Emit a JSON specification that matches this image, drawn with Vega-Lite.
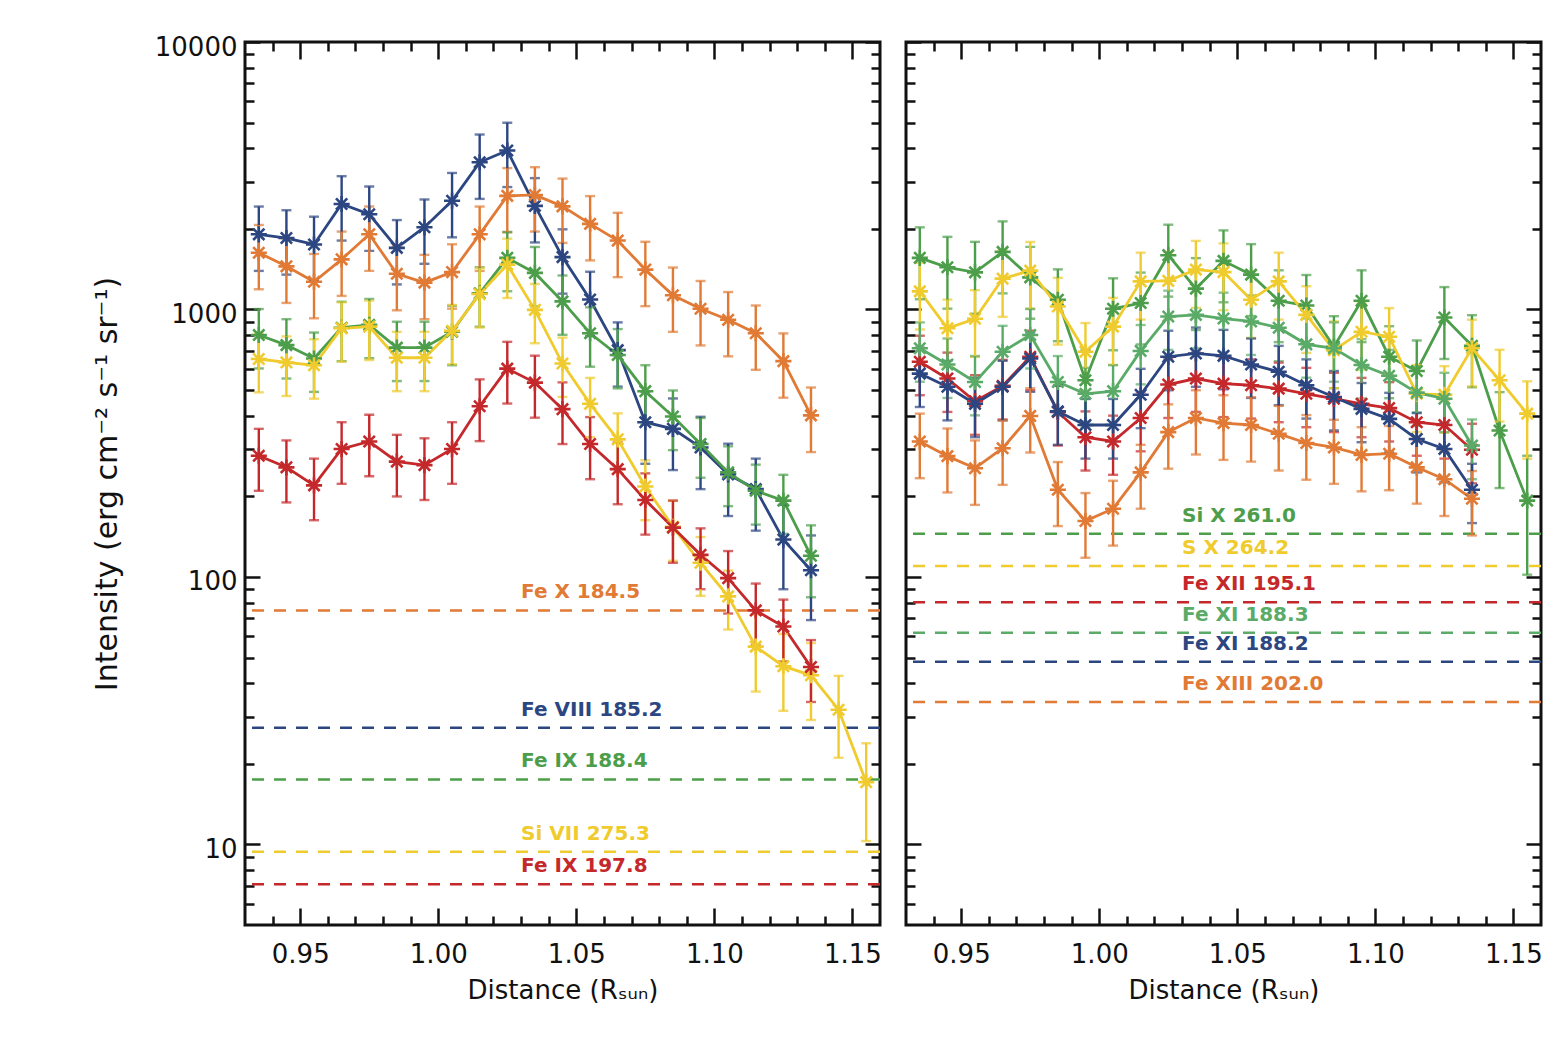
{
  "$schema": "https://vega.github.io/schema/vega-lite/v6.json",
  "background": "white",
  "padding": {"left": 90, "top": 32, "right": 0, "bottom": 0},
  "spacing": 20,
  "datasets": {
    "refL": [
      {"ion": "Fe X 184.5", "level": 75},
      {"ion": "Fe VIII 185.2", "level": 27.3},
      {"ion": "Fe IX 188.4", "level": 17.5},
      {"ion": "Si VII 275.3", "level": 9.4},
      {"ion": "Fe IX 197.8", "level": 7.1}
    ],
    "refR": [
      {"ion": "Si X 261.0", "level": 145},
      {"ion": "S X 264.2", "level": 110},
      {"ion": "Fe XII 195.1", "level": 80.4},
      {"ion": "Fe XI 188.3", "level": 61.9},
      {"ion": "Fe XI 188.2", "level": 48.2},
      {"ion": "Fe XIII 202.0", "level": 34.1}
    ],
    "obsL": [
      {"ion": "Fe VIII 185.2", "d": 0.935, "i": 1910, "err": 516},
      {"ion": "Fe VIII 185.2", "d": 0.945, "i": 1850, "err": 500},
      {"ion": "Fe VIII 185.2", "d": 0.955, "i": 1750, "err": 473},
      {"ion": "Fe VIII 185.2", "d": 0.965, "i": 2480, "err": 670},
      {"ion": "Fe VIII 185.2", "d": 0.975, "i": 2270, "err": 613},
      {"ion": "Fe VIII 185.2", "d": 0.985, "i": 1700, "err": 459},
      {"ion": "Fe VIII 185.2", "d": 0.995, "i": 2030, "err": 548},
      {"ion": "Fe VIII 185.2", "d": 1.005, "i": 2550, "err": 689},
      {"ion": "Fe VIII 185.2", "d": 1.015, "i": 3550, "err": 959},
      {"ion": "Fe VIII 185.2", "d": 1.025, "i": 3930, "err": 1061},
      {"ion": "Fe VIII 185.2", "d": 1.035, "i": 2440, "err": 659},
      {"ion": "Fe VIII 185.2", "d": 1.045, "i": 1570, "err": 424},
      {"ion": "Fe VIII 185.2", "d": 1.055, "i": 1090, "err": 294},
      {"ion": "Fe VIII 185.2", "d": 1.065, "i": 705, "err": 190},
      {"ion": "Fe VIII 185.2", "d": 1.075, "i": 379, "err": 114},
      {"ion": "Fe VIII 185.2", "d": 1.085, "i": 358, "err": 107},
      {"ion": "Fe VIII 185.2", "d": 1.095, "i": 305, "err": 92},
      {"ion": "Fe VIII 185.2", "d": 1.105, "i": 242, "err": 73},
      {"ion": "Fe VIII 185.2", "d": 1.115, "i": 213, "err": 64},
      {"ion": "Fe VIII 185.2", "d": 1.125, "i": 138, "err": 48},
      {"ion": "Fe VIII 185.2", "d": 1.135, "i": 106, "err": 37},
      {"ion": "Fe X 184.5", "d": 0.935, "i": 1630, "err": 440},
      {"ion": "Fe X 184.5", "d": 0.945, "i": 1450, "err": 392},
      {"ion": "Fe X 184.5", "d": 0.955, "i": 1270, "err": 343},
      {"ion": "Fe X 184.5", "d": 0.965, "i": 1540, "err": 416},
      {"ion": "Fe X 184.5", "d": 0.975, "i": 1910, "err": 516},
      {"ion": "Fe X 184.5", "d": 0.985, "i": 1360, "err": 367},
      {"ion": "Fe X 184.5", "d": 0.995, "i": 1260, "err": 340},
      {"ion": "Fe X 184.5", "d": 1.005, "i": 1380, "err": 373},
      {"ion": "Fe X 184.5", "d": 1.015, "i": 1910, "err": 516},
      {"ion": "Fe X 184.5", "d": 1.025, "i": 2660, "err": 718},
      {"ion": "Fe X 184.5", "d": 1.035, "i": 2680, "err": 724},
      {"ion": "Fe X 184.5", "d": 1.045, "i": 2430, "err": 656},
      {"ion": "Fe X 184.5", "d": 1.055, "i": 2090, "err": 564},
      {"ion": "Fe X 184.5", "d": 1.065, "i": 1810, "err": 489},
      {"ion": "Fe X 184.5", "d": 1.075, "i": 1410, "err": 381},
      {"ion": "Fe X 184.5", "d": 1.085, "i": 1130, "err": 305},
      {"ion": "Fe X 184.5", "d": 1.095, "i": 1006, "err": 272},
      {"ion": "Fe X 184.5", "d": 1.105, "i": 915, "err": 247},
      {"ion": "Fe X 184.5", "d": 1.115, "i": 815, "err": 220},
      {"ion": "Fe X 184.5", "d": 1.125, "i": 641, "err": 173},
      {"ion": "Fe X 184.5", "d": 1.135, "i": 402, "err": 109},
      {"ion": "Fe IX 188.4", "d": 0.935, "i": 803, "err": 201},
      {"ion": "Fe IX 188.4", "d": 0.945, "i": 736, "err": 184},
      {"ion": "Fe IX 188.4", "d": 0.955, "i": 656, "err": 164},
      {"ion": "Fe IX 188.4", "d": 0.965, "i": 855, "err": 214},
      {"ion": "Fe IX 188.4", "d": 0.975, "i": 876, "err": 219},
      {"ion": "Fe IX 188.4", "d": 0.985, "i": 720, "err": 180},
      {"ion": "Fe IX 188.4", "d": 0.995, "i": 720, "err": 180},
      {"ion": "Fe IX 188.4", "d": 1.005, "i": 826, "err": 207},
      {"ion": "Fe IX 188.4", "d": 1.015, "i": 1150, "err": 288},
      {"ion": "Fe IX 188.4", "d": 1.025, "i": 1560, "err": 390},
      {"ion": "Fe IX 188.4", "d": 1.035, "i": 1370, "err": 343},
      {"ion": "Fe IX 188.4", "d": 1.045, "i": 1072, "err": 268},
      {"ion": "Fe IX 188.4", "d": 1.055, "i": 815, "err": 204},
      {"ion": "Fe IX 188.4", "d": 1.065, "i": 676, "err": 169},
      {"ion": "Fe IX 188.4", "d": 1.075, "i": 495, "err": 124},
      {"ion": "Fe IX 188.4", "d": 1.085, "i": 398, "err": 100},
      {"ion": "Fe IX 188.4", "d": 1.095, "i": 314, "err": 79},
      {"ion": "Fe IX 188.4", "d": 1.105, "i": 246, "err": 62},
      {"ion": "Fe IX 188.4", "d": 1.115, "i": 210, "err": 53},
      {"ion": "Fe IX 188.4", "d": 1.125, "i": 193, "err": 48},
      {"ion": "Fe IX 188.4", "d": 1.135, "i": 120, "err": 36},
      {"ion": "Si VII 275.3", "d": 0.935, "i": 653, "err": 163},
      {"ion": "Si VII 275.3", "d": 0.945, "i": 634, "err": 159},
      {"ion": "Si VII 275.3", "d": 0.955, "i": 619, "err": 155},
      {"ion": "Si VII 275.3", "d": 0.965, "i": 851, "err": 213},
      {"ion": "Si VII 275.3", "d": 0.975, "i": 863, "err": 216},
      {"ion": "Si VII 275.3", "d": 0.985, "i": 660, "err": 165},
      {"ion": "Si VII 275.3", "d": 0.995, "i": 660, "err": 165},
      {"ion": "Si VII 275.3", "d": 1.005, "i": 832, "err": 208},
      {"ion": "Si VII 275.3", "d": 1.015, "i": 1142, "err": 286},
      {"ion": "Si VII 275.3", "d": 1.025, "i": 1472, "err": 368},
      {"ion": "Si VII 275.3", "d": 1.035, "i": 997, "err": 249},
      {"ion": "Si VII 275.3", "d": 1.045, "i": 628, "err": 157},
      {"ion": "Si VII 275.3", "d": 1.055, "i": 444, "err": 111},
      {"ion": "Si VII 275.3", "d": 1.065, "i": 327, "err": 82},
      {"ion": "Si VII 275.3", "d": 1.075, "i": 218, "err": 55},
      {"ion": "Si VII 275.3", "d": 1.085, "i": 154, "err": 39},
      {"ion": "Si VII 275.3", "d": 1.095, "i": 113, "err": 28},
      {"ion": "Si VII 275.3", "d": 1.105, "i": 84.6, "err": 21},
      {"ion": "Si VII 275.3", "d": 1.115, "i": 54.9, "err": 17.6},
      {"ion": "Si VII 275.3", "d": 1.125, "i": 46.4, "err": 14.8},
      {"ion": "Si VII 275.3", "d": 1.135, "i": 42.9, "err": 13.7},
      {"ion": "Si VII 275.3", "d": 1.145, "i": 31.9, "err": 10.8},
      {"ion": "Si VII 275.3", "d": 1.155, "i": 17.1, "err": 6.8},
      {"ion": "Fe IX 197.8", "d": 0.935, "i": 284, "err": 74},
      {"ion": "Fe IX 197.8", "d": 0.945, "i": 257, "err": 67},
      {"ion": "Fe IX 197.8", "d": 0.955, "i": 220, "err": 57},
      {"ion": "Fe IX 197.8", "d": 0.965, "i": 301, "err": 78},
      {"ion": "Fe IX 197.8", "d": 0.975, "i": 321, "err": 83},
      {"ion": "Fe IX 197.8", "d": 0.985, "i": 270, "err": 70},
      {"ion": "Fe IX 197.8", "d": 0.995, "i": 262, "err": 68},
      {"ion": "Fe IX 197.8", "d": 1.005, "i": 301, "err": 78},
      {"ion": "Fe IX 197.8", "d": 1.015, "i": 435, "err": 113},
      {"ion": "Fe IX 197.8", "d": 1.025, "i": 601, "err": 156},
      {"ion": "Fe IX 197.8", "d": 1.035, "i": 533, "err": 139},
      {"ion": "Fe IX 197.8", "d": 1.045, "i": 424, "err": 110},
      {"ion": "Fe IX 197.8", "d": 1.055, "i": 314, "err": 82},
      {"ion": "Fe IX 197.8", "d": 1.065, "i": 253, "err": 66},
      {"ion": "Fe IX 197.8", "d": 1.075, "i": 194, "err": 50},
      {"ion": "Fe IX 197.8", "d": 1.085, "i": 153, "err": 40},
      {"ion": "Fe IX 197.8", "d": 1.095, "i": 121, "err": 31},
      {"ion": "Fe IX 197.8", "d": 1.105, "i": 99, "err": 26},
      {"ion": "Fe IX 197.8", "d": 1.115, "i": 75, "err": 19.5},
      {"ion": "Fe IX 197.8", "d": 1.125, "i": 65.3, "err": 17},
      {"ion": "Fe IX 197.8", "d": 1.135, "i": 46.1, "err": 12}
    ],
    "obsR": [
      {"ion": "Si X 261.0", "d": 0.935, "i": 1560, "err": 468},
      {"ion": "Si X 261.0", "d": 0.945, "i": 1438, "err": 431},
      {"ion": "Si X 261.0", "d": 0.955, "i": 1377, "err": 413},
      {"ion": "Si X 261.0", "d": 0.965, "i": 1642, "err": 493},
      {"ion": "Si X 261.0", "d": 0.975, "i": 1319, "err": 396},
      {"ion": "Si X 261.0", "d": 0.985, "i": 1087, "err": 326},
      {"ion": "Si X 261.0", "d": 0.995, "i": 544, "err": 163},
      {"ion": "Si X 261.0", "d": 1.005, "i": 1006, "err": 302},
      {"ion": "Si X 261.0", "d": 1.015, "i": 1057, "err": 317},
      {"ion": "Si X 261.0", "d": 1.025, "i": 1596, "err": 479},
      {"ion": "Si X 261.0", "d": 1.035, "i": 1197, "err": 359},
      {"ion": "Si X 261.0", "d": 1.045, "i": 1520, "err": 456},
      {"ion": "Si X 261.0", "d": 1.055, "i": 1350, "err": 405},
      {"ion": "Si X 261.0", "d": 1.065, "i": 1078, "err": 323},
      {"ion": "Si X 261.0", "d": 1.075, "i": 1035, "err": 311},
      {"ion": "Si X 261.0", "d": 1.085, "i": 726, "err": 218},
      {"ion": "Si X 261.0", "d": 1.095, "i": 1078, "err": 323},
      {"ion": "Si X 261.0", "d": 1.105, "i": 666, "err": 200},
      {"ion": "Si X 261.0", "d": 1.115, "i": 589, "err": 177},
      {"ion": "Si X 261.0", "d": 1.125, "i": 933, "err": 280},
      {"ion": "Si X 261.0", "d": 1.135, "i": 732, "err": 220},
      {"ion": "Si X 261.0", "d": 1.145, "i": 353, "err": 138},
      {"ion": "Si X 261.0", "d": 1.155, "i": 193, "err": 91},
      {"ion": "S X 264.2", "d": 0.935, "i": 1169, "err": 327},
      {"ion": "S X 264.2", "d": 0.945, "i": 851, "err": 238},
      {"ion": "S X 264.2", "d": 0.955, "i": 923, "err": 258},
      {"ion": "S X 264.2", "d": 0.965, "i": 1304, "err": 365},
      {"ion": "S X 264.2", "d": 0.975, "i": 1397, "err": 391},
      {"ion": "S X 264.2", "d": 0.985, "i": 1026, "err": 287},
      {"ion": "S X 264.2", "d": 0.995, "i": 695, "err": 195},
      {"ion": "S X 264.2", "d": 1.005, "i": 863, "err": 242},
      {"ion": "S X 264.2", "d": 1.015, "i": 1274, "err": 357},
      {"ion": "S X 264.2", "d": 1.025, "i": 1280, "err": 358},
      {"ion": "S X 264.2", "d": 1.035, "i": 1410, "err": 395},
      {"ion": "S X 264.2", "d": 1.045, "i": 1380, "err": 386},
      {"ion": "S X 264.2", "d": 1.055, "i": 1087, "err": 304},
      {"ion": "S X 264.2", "d": 1.065, "i": 1274, "err": 357},
      {"ion": "S X 264.2", "d": 1.075, "i": 955, "err": 267},
      {"ion": "S X 264.2", "d": 1.085, "i": 705, "err": 197},
      {"ion": "S X 264.2", "d": 1.095, "i": 826, "err": 231},
      {"ion": "S X 264.2", "d": 1.105, "i": 791, "err": 221},
      {"ion": "S X 264.2", "d": 1.115, "i": 484, "err": 136},
      {"ion": "S X 264.2", "d": 1.125, "i": 480, "err": 134},
      {"ion": "S X 264.2", "d": 1.135, "i": 716, "err": 200},
      {"ion": "S X 264.2", "d": 1.145, "i": 544, "err": 163},
      {"ion": "S X 264.2", "d": 1.155, "i": 408, "err": 131},
      {"ion": "Fe XII 195.1", "d": 0.935, "i": 638, "err": 160},
      {"ion": "Fe XII 195.1", "d": 0.945, "i": 552, "err": 138},
      {"ion": "Fe XII 195.1", "d": 0.955, "i": 454, "err": 114},
      {"ion": "Fe XII 195.1", "d": 0.965, "i": 518, "err": 130},
      {"ion": "Fe XII 195.1", "d": 0.975, "i": 666, "err": 167},
      {"ion": "Fe XII 195.1", "d": 0.985, "i": 414, "err": 104},
      {"ion": "Fe XII 195.1", "d": 0.995, "i": 333, "err": 83},
      {"ion": "Fe XII 195.1", "d": 1.005, "i": 321, "err": 80},
      {"ion": "Fe XII 195.1", "d": 1.015, "i": 393, "err": 98},
      {"ion": "Fe XII 195.1", "d": 1.025, "i": 524, "err": 131},
      {"ion": "Fe XII 195.1", "d": 1.035, "i": 552, "err": 138},
      {"ion": "Fe XII 195.1", "d": 1.045, "i": 528, "err": 132},
      {"ion": "Fe XII 195.1", "d": 1.055, "i": 521, "err": 130},
      {"ion": "Fe XII 195.1", "d": 1.065, "i": 506, "err": 127},
      {"ion": "Fe XII 195.1", "d": 1.075, "i": 484, "err": 121},
      {"ion": "Fe XII 195.1", "d": 1.085, "i": 464, "err": 116},
      {"ion": "Fe XII 195.1", "d": 1.095, "i": 444, "err": 111},
      {"ion": "Fe XII 195.1", "d": 1.105, "i": 428, "err": 107},
      {"ion": "Fe XII 195.1", "d": 1.115, "i": 379, "err": 95},
      {"ion": "Fe XII 195.1", "d": 1.125, "i": 370, "err": 93},
      {"ion": "Fe XII 195.1", "d": 1.135, "i": 299, "err": 75},
      {"ion": "Fe XI 188.3", "d": 0.935, "i": 716, "err": 179},
      {"ion": "Fe XI 188.3", "d": 0.945, "i": 623, "err": 156},
      {"ion": "Fe XI 188.3", "d": 0.955, "i": 536, "err": 134},
      {"ion": "Fe XI 188.3", "d": 0.965, "i": 695, "err": 174},
      {"ion": "Fe XI 188.3", "d": 0.975, "i": 803, "err": 201},
      {"ion": "Fe XI 188.3", "d": 0.985, "i": 536, "err": 134},
      {"ion": "Fe XI 188.3", "d": 0.995, "i": 484, "err": 121},
      {"ion": "Fe XI 188.3", "d": 1.005, "i": 495, "err": 124},
      {"ion": "Fe XI 188.3", "d": 1.015, "i": 700, "err": 175},
      {"ion": "Fe XI 188.3", "d": 1.025, "i": 941, "err": 235},
      {"ion": "Fe XI 188.3", "d": 1.035, "i": 955, "err": 239},
      {"ion": "Fe XI 188.3", "d": 1.045, "i": 925, "err": 231},
      {"ion": "Fe XI 188.3", "d": 1.055, "i": 902, "err": 226},
      {"ion": "Fe XI 188.3", "d": 1.065, "i": 855, "err": 214},
      {"ion": "Fe XI 188.3", "d": 1.075, "i": 741, "err": 185},
      {"ion": "Fe XI 188.3", "d": 1.085, "i": 716, "err": 179},
      {"ion": "Fe XI 188.3", "d": 1.095, "i": 620, "err": 155},
      {"ion": "Fe XI 188.3", "d": 1.105, "i": 565, "err": 141},
      {"ion": "Fe XI 188.3", "d": 1.115, "i": 489, "err": 122},
      {"ion": "Fe XI 188.3", "d": 1.125, "i": 464, "err": 116},
      {"ion": "Fe XI 188.3", "d": 1.135, "i": 310, "err": 78},
      {"ion": "Fe XI 188.2", "d": 0.935, "i": 576, "err": 144},
      {"ion": "Fe XI 188.2", "d": 0.945, "i": 514, "err": 129},
      {"ion": "Fe XI 188.2", "d": 0.955, "i": 444, "err": 111},
      {"ion": "Fe XI 188.2", "d": 0.965, "i": 514, "err": 129},
      {"ion": "Fe XI 188.2", "d": 0.975, "i": 656, "err": 164},
      {"ion": "Fe XI 188.2", "d": 0.985, "i": 416, "err": 104},
      {"ion": "Fe XI 188.2", "d": 0.995, "i": 370, "err": 93},
      {"ion": "Fe XI 188.2", "d": 1.005, "i": 370, "err": 93},
      {"ion": "Fe XI 188.2", "d": 1.015, "i": 480, "err": 120},
      {"ion": "Fe XI 188.2", "d": 1.025, "i": 666, "err": 167},
      {"ion": "Fe XI 188.2", "d": 1.035, "i": 685, "err": 171},
      {"ion": "Fe XI 188.2", "d": 1.045, "i": 671, "err": 168},
      {"ion": "Fe XI 188.2", "d": 1.055, "i": 623, "err": 156},
      {"ion": "Fe XI 188.2", "d": 1.065, "i": 585, "err": 146},
      {"ion": "Fe XI 188.2", "d": 1.075, "i": 521, "err": 130},
      {"ion": "Fe XI 188.2", "d": 1.085, "i": 471, "err": 118},
      {"ion": "Fe XI 188.2", "d": 1.095, "i": 425, "err": 106},
      {"ion": "Fe XI 188.2", "d": 1.105, "i": 390, "err": 98},
      {"ion": "Fe XI 188.2", "d": 1.115, "i": 328, "err": 82},
      {"ion": "Fe XI 188.2", "d": 1.125, "i": 301, "err": 75},
      {"ion": "Fe XI 188.2", "d": 1.135, "i": 212, "err": 53},
      {"ion": "Fe XIII 202.0", "d": 0.935, "i": 321, "err": 87},
      {"ion": "Fe XIII 202.0", "d": 0.945, "i": 283, "err": 76},
      {"ion": "Fe XIII 202.0", "d": 0.955, "i": 255, "err": 69},
      {"ion": "Fe XIII 202.0", "d": 0.965, "i": 303, "err": 82},
      {"ion": "Fe XIII 202.0", "d": 0.975, "i": 400, "err": 108},
      {"ion": "Fe XIII 202.0", "d": 0.985, "i": 212, "err": 57},
      {"ion": "Fe XIII 202.0", "d": 0.995, "i": 162, "err": 44},
      {"ion": "Fe XIII 202.0", "d": 1.005, "i": 180, "err": 49},
      {"ion": "Fe XIII 202.0", "d": 1.015, "i": 246, "err": 66},
      {"ion": "Fe XIII 202.0", "d": 1.025, "i": 348, "err": 94},
      {"ion": "Fe XIII 202.0", "d": 1.035, "i": 393, "err": 106},
      {"ion": "Fe XIII 202.0", "d": 1.045, "i": 376, "err": 102},
      {"ion": "Fe XIII 202.0", "d": 1.055, "i": 370, "err": 100},
      {"ion": "Fe XIII 202.0", "d": 1.065, "i": 343, "err": 93},
      {"ion": "Fe XIII 202.0", "d": 1.075, "i": 317, "err": 86},
      {"ion": "Fe XIII 202.0", "d": 1.085, "i": 305, "err": 82},
      {"ion": "Fe XIII 202.0", "d": 1.095, "i": 286, "err": 77},
      {"ion": "Fe XIII 202.0", "d": 1.105, "i": 289, "err": 78},
      {"ion": "Fe XIII 202.0", "d": 1.115, "i": 257, "err": 69},
      {"ion": "Fe XIII 202.0", "d": 1.125, "i": 232, "err": 63},
      {"ion": "Fe XIII 202.0", "d": 1.135, "i": 196, "err": 53}
    ]
  },
  "hconcat": [
    {
      "width": 635,
      "height": 883,
      "layer": [
        {
          "data": {"name": "refL"},
          "mark": {"type": "rule", "strokeDash": [12, 10], "strokeWidth": 2.5},
          "encoding": {
            "y": {"field": "level", "type": "quantitative", "scale": {"type": "log", "domain": [5, 10000], "nice": false},
                  "axis": {"orient": "right", "title": null, "labels": false, "tickSize": -9,
                           "values": [6, 7, 8, 9, 20, 30, 40, 50, 60, 70, 80, 90, 200, 300, 400, 500, 600, 700, 800, 900, 2000, 3000, 4000, 5000, 6000, 7000, 8000, 9000]}},
            "color": {"field": "ion", "type": "nominal", "legend": null,
                      "scale": {"domain": ["Fe VIII 185.2", "Fe X 184.5", "Fe IX 188.4", "Si VII 275.3", "Fe IX 197.8", "Si X 261.0", "S X 264.2", "Fe XII 195.1", "Fe XI 188.3", "Fe XI 188.2", "Fe XIII 202.0"],
                                "range": ["#2c4682", "#e07a35", "#4c9e4a", "#f0cb2e", "#c4282b", "#4c9e4a", "#f0cb2e", "#c4282b", "#5aab68", "#2c4682", "#e07a35"]}}
          }
        },
        {
          "data": {"name": "obsL"},
          "mark": {"type": "line", "strokeWidth": 2.8},
          "encoding": {
            "x": {"field": "d", "type": "quantitative", "scale": {"domain": [0.93, 1.16], "nice": false, "zero": false},
                  "axis": {"orient": "bottom", "title": "Distance (Rₛᵤₙ)", "values": [0.95, 1.0, 1.05, 1.1, 1.15], "format": ".2f", "tickSize": -17, "labelPadding": 33, "titlePadding": 10}},
            "y": {"field": "i", "type": "quantitative", "scale": {"type": "log", "domain": [5, 10000], "nice": false},
                  "axis": {"orient": "left", "title": "Intensity (erg cm⁻² s⁻¹ sr⁻¹)", "values": [10, 100, 1000, 10000], "format": "d", "tickSize": -15, "labelPadding": 23, "labelOffset": 5, "titlePadding": 32, "titleFontSize": 30}},
            "color": {"field": "ion", "type": "nominal", "legend": null}
          }
        },
        {
          "data": {"name": "obsL"},
          "mark": {"type": "errorbar", "ticks": true, "size": 10, "thickness": 2.4},
          "encoding": {
            "x": {"field": "d", "type": "quantitative",
                  "axis": {"orient": "bottom", "title": null, "labels": false, "tickSize": -9,
                           "values": [0.94, 0.96, 0.97, 0.98, 0.99, 1.01, 1.02, 1.03, 1.04, 1.06, 1.07, 1.08, 1.09, 1.11, 1.12, 1.13, 1.14]}},
            "y": {"field": "i", "type": "quantitative",
                  "axis": {"orient": "left", "title": null, "labels": false, "tickSize": -9,
                           "values": [6, 7, 8, 9, 20, 30, 40, 50, 60, 70, 80, 90, 200, 300, 400, 500, 600, 700, 800, 900, 2000, 3000, 4000, 5000, 6000, 7000, 8000, 9000]}},
            "yError": {"field": "err"},
            "color": {"field": "ion", "type": "nominal", "legend": null}
          }
        },
        {
          "data": {"name": "obsL"},
          "mark": {"type": "point", "shape": "M-1,0L1,0M0,-1L0,1M-0.7,-0.7L0.7,0.7M-0.7,0.7L0.7,-0.7", "size": 260, "strokeWidth": 2.6, "filled": false, "opacity": 1},
          "encoding": {
            "x": {"field": "d", "type": "quantitative",
                  "axis": {"orient": "top", "title": null, "labels": false, "tickSize": -17, "values": [0.95, 1.0, 1.05, 1.1, 1.15]}},
            "y": {"field": "i", "type": "quantitative",
                  "axis": {"orient": "right", "title": null, "labels": false, "tickSize": -15, "values": [10, 100, 1000, 10000]}},
            "color": {"field": "ion", "type": "nominal", "legend": null}
          }
        },
        {
          "data": {"name": "refL"},
          "mark": {"type": "text", "align": "left", "baseline": "middle", "dy": -18, "fontSize": 20, "fontWeight": "bold"},
          "encoding": {
            "x": {"datum": 1.03, "type": "quantitative",
                  "axis": {"orient": "top", "title": null, "labels": false, "tickSize": -9,
                           "values": [0.94, 0.96, 0.97, 0.98, 0.99, 1.01, 1.02, 1.03, 1.04, 1.06, 1.07, 1.08, 1.09, 1.11, 1.12, 1.13, 1.14]}},
            "y": {"field": "level", "type": "quantitative", "axis": null},
            "text": {"field": "ion"},
            "color": {"field": "ion", "type": "nominal", "legend": null}
          }
        }
      ],
      "resolve": {"axis": {"x": "independent", "y": "independent"}}
    },
    {
      "width": 635,
      "height": 883,
      "layer": [
        {
          "data": {"name": "refR"},
          "mark": {"type": "rule", "strokeDash": [12, 10], "strokeWidth": 2.5},
          "encoding": {
            "y": {"field": "level", "type": "quantitative", "scale": {"type": "log", "domain": [5, 10000], "nice": false},
                  "axis": {"orient": "right", "title": null, "labels": false, "tickSize": -9,
                           "values": [6, 7, 8, 9, 20, 30, 40, 50, 60, 70, 80, 90, 200, 300, 400, 500, 600, 700, 800, 900, 2000, 3000, 4000, 5000, 6000, 7000, 8000, 9000]}},
            "color": {"field": "ion", "type": "nominal", "legend": null}
          }
        },
        {
          "data": {"name": "obsR"},
          "mark": {"type": "line", "strokeWidth": 2.8},
          "encoding": {
            "x": {"field": "d", "type": "quantitative", "scale": {"domain": [0.93, 1.16], "nice": false, "zero": false},
                  "axis": {"orient": "bottom", "title": "Distance (Rₛᵤₙ)", "values": [0.95, 1.0, 1.05, 1.1, 1.15], "format": ".2f", "tickSize": -17, "labelPadding": 33, "titlePadding": 10}},
            "y": {"field": "i", "type": "quantitative", "scale": {"type": "log", "domain": [5, 10000], "nice": false},
                  "axis": {"orient": "left", "title": null, "labels": false, "values": [10, 100, 1000, 10000], "tickSize": -15}},
            "color": {"field": "ion", "type": "nominal", "legend": null}
          }
        },
        {
          "data": {"name": "obsR"},
          "mark": {"type": "errorbar", "ticks": true, "size": 10, "thickness": 2.4},
          "encoding": {
            "x": {"field": "d", "type": "quantitative",
                  "axis": {"orient": "bottom", "title": null, "labels": false, "tickSize": -9,
                           "values": [0.94, 0.96, 0.97, 0.98, 0.99, 1.01, 1.02, 1.03, 1.04, 1.06, 1.07, 1.08, 1.09, 1.11, 1.12, 1.13, 1.14]}},
            "y": {"field": "i", "type": "quantitative",
                  "axis": {"orient": "left", "title": null, "labels": false, "tickSize": -9,
                           "values": [6, 7, 8, 9, 20, 30, 40, 50, 60, 70, 80, 90, 200, 300, 400, 500, 600, 700, 800, 900, 2000, 3000, 4000, 5000, 6000, 7000, 8000, 9000]}},
            "yError": {"field": "err"},
            "color": {"field": "ion", "type": "nominal", "legend": null}
          }
        },
        {
          "data": {"name": "obsR"},
          "mark": {"type": "point", "shape": "M-1,0L1,0M0,-1L0,1M-0.7,-0.7L0.7,0.7M-0.7,0.7L0.7,-0.7", "size": 260, "strokeWidth": 2.6, "filled": false, "opacity": 1},
          "encoding": {
            "x": {"field": "d", "type": "quantitative",
                  "axis": {"orient": "top", "title": null, "labels": false, "tickSize": -17, "values": [0.95, 1.0, 1.05, 1.1, 1.15]}},
            "y": {"field": "i", "type": "quantitative",
                  "axis": {"orient": "right", "title": null, "labels": false, "tickSize": -15, "values": [10, 100, 1000, 10000]}},
            "color": {"field": "ion", "type": "nominal", "legend": null}
          }
        },
        {
          "data": {"name": "refR"},
          "mark": {"type": "text", "align": "left", "baseline": "middle", "dy": -18, "fontSize": 20, "fontWeight": "bold"},
          "encoding": {
            "x": {"datum": 1.03, "type": "quantitative",
                  "axis": {"orient": "top", "title": null, "labels": false, "tickSize": -9,
                           "values": [0.94, 0.96, 0.97, 0.98, 0.99, 1.01, 1.02, 1.03, 1.04, 1.06, 1.07, 1.08, 1.09, 1.11, 1.12, 1.13, 1.14]}},
            "y": {"field": "level", "type": "quantitative", "axis": null},
            "text": {"field": "ion"},
            "color": {"field": "ion", "type": "nominal", "legend": null}
          }
        }
      ],
      "resolve": {"axis": {"x": "independent", "y": "independent"}}
    }
  ],
  "resolve": {"scale": {"color": "shared"}},
  "config": {
    "font": "DejaVu Sans",
    "view": {"stroke": "#111111", "strokeWidth": 3},
    "axis": {
      "grid": false, "domain": false, "minExtent": 0, "labelFlush": false, "labelOverlap": false,
      "labelFont": "DejaVu Sans", "labelFontSize": 26, "labelColor": "#111111",
      "titleFont": "DejaVu Sans", "titleFontSize": 26, "titleFontWeight": "normal", "titleColor": "#111111",
      "tickColor": "#111111", "tickWidth": 2.5
    }
  }
}
